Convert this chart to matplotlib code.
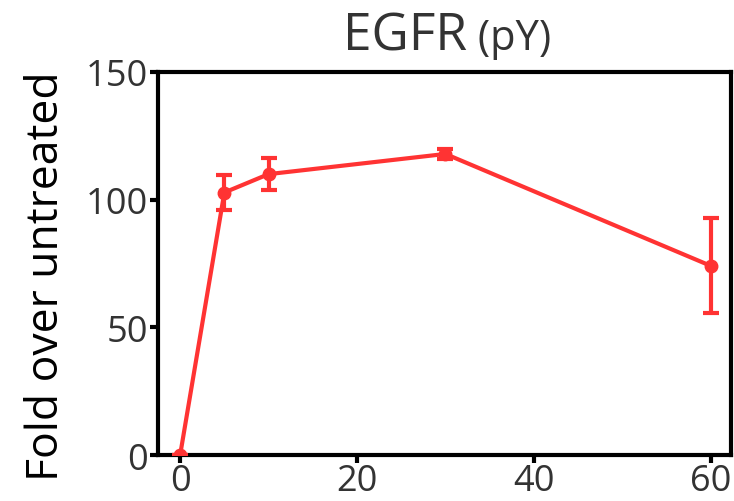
import numpy as np
import matplotlib.pyplot as plt

# time points (min) and EGFR pY signal
time_min = [0, 5, 10, 30, 60]
fold = [0, 102.8, 110.0, 117.9, 74.1]
fold_err = [0, 6.7, 6.4, 2.0, 18.6]

xticks = [0, 20, 40, 60]
yticks = [0, 50, 100, 150]

red = "#ff3333"
grey = "#333333"
plt.rcParams['font.family'] = ['Open Sans', 'DejaVu Sans']

fig = plt.figure(figsize=(7.34, 5.02), dpi=100)
ax = fig.add_axes([0.2153, 0.0916, 0.7806, 0.763])

ax.errorbar(time_min, fold, yerr=fold_err, color=red, lw=3, marker='o',
            markersize=9, capsize=6, capthick=3, elinewidth=3, zorder=3)

ax.set_xlim(-2.5, 62.3)
ax.set_ylim(0, 150)
ax.set_xticks(xticks)
ax.set_yticks(yticks)

for s in ax.spines.values():
    s.set_linewidth(3)
    s.set_color('black')
ax.tick_params(width=3, length=6, labelcolor=grey)
ax.tick_params(axis='y', labelsize=26, pad=1)
ax.tick_params(axis='x', labelsize=26, pad=0)

ax.set_ylabel('Fold over untreated', fontsize=32, color='black')
ax.yaxis.set_label_coords(-0.155, 0.47)
ax.text(0.54, 1.06, 'EGFR', transform=ax.transAxes, ha='right', va='baseline',
        fontsize=37, color=grey)
ax.text(0.54, 1.06, ' (pY)', transform=ax.transAxes, ha='left', va='baseline',
        fontsize=30, color=grey)

fig.savefig('out.png', dpi=100)
